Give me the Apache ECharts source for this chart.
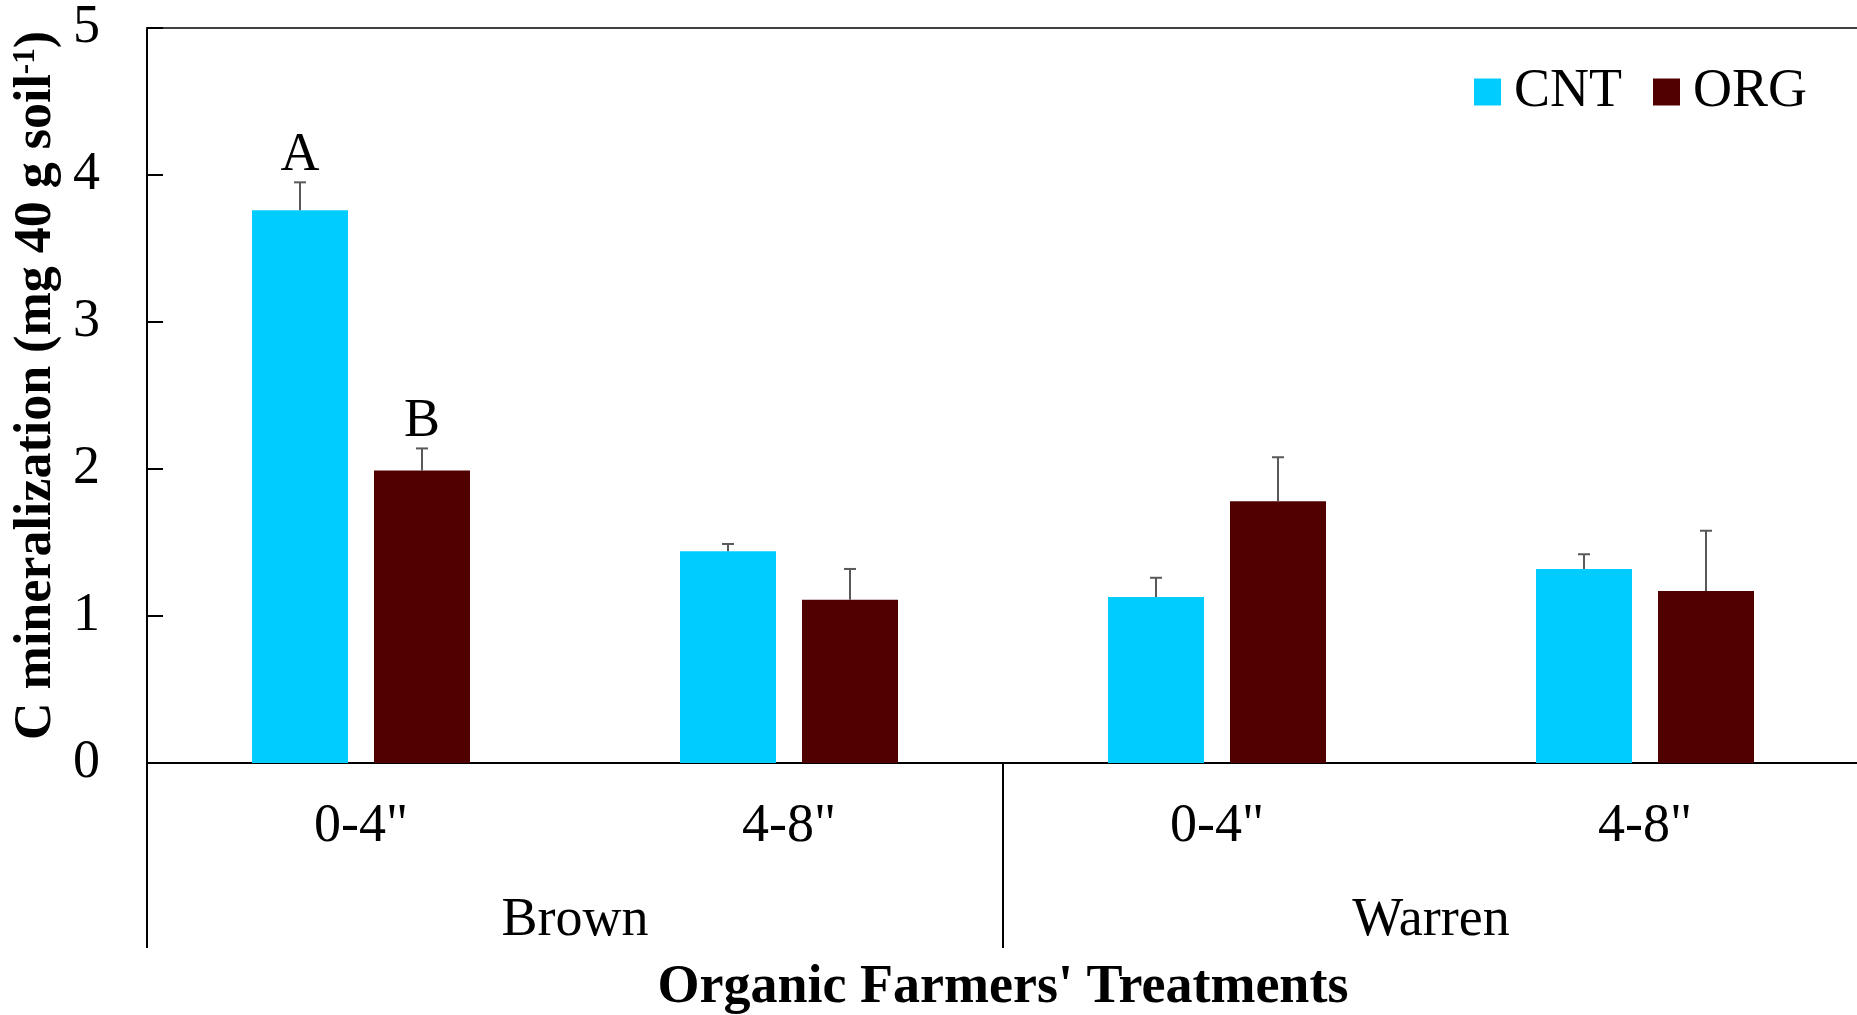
<!DOCTYPE html>
<html>
<head>
<meta charset="utf-8">
<script src="https://cdn.jsdelivr.net/npm/echarts@6/dist/echarts.min.js"></script>
<style>
html,body{margin:0;padding:0;background:#fff;}
#chart{width:1857px;height:1015px;}
</style>
</head>
<body>
<div id="chart"></div>
<script>
// ---- data ----
const depthLabels = ['0-4"', '4-8"', '0-4"', '4-8"'];
const farmLabels = ['Brown', 'Warren'];
const seriesNames = ['CNT', 'ORG'];
const cntValues = [3.76, 1.44, 1.13, 1.32];
const orgValues = [1.99, 1.11, 1.78, 1.17];
const cntErrors = [0.19, 0.05, 0.13, 0.10];
const orgErrors = [0.15, 0.21, 0.30, 0.41];
const cntLetters = ['A', '', '', ''];
const orgLetters = ['B', '', '', ''];
const yTicks = [0, 1, 2, 3, 4, 5];

// ---- style ----
const FONT = "'Liberation Serif', 'Times New Roman', 'DejaVu Serif', serif";
const CNT_COLOR = '#00CCFF';
const ORG_COLOR = '#500000';
const BAR_W = 96;
const BAR_GAP = 26;
const OFFSET = (BAR_W + BAR_GAP) / 2;

function errSeries(name, values, errors, letters, sign) {
  return {
    type: 'custom',
    name: name + ' err',
    xAxisIndex: 0,
    yAxisIndex: 0,
    z: 5,
    silent: true,
    data: values.map((v, i) => [i, v, errors[i]]),
    renderItem: function (params, api) {
      const i = api.value(0);
      const v = api.value(1);
      const e = api.value(2);
      const base = api.coord([i, v]);
      const top = api.coord([i, v + e]);
      const x = base[0] + sign * OFFSET;
      const children = [
        { type: 'line', shape: { x1: x, y1: base[1], x2: x, y2: top[1] },
          style: { stroke: '#595959', lineWidth: 2 } },
        { type: 'line', shape: { x1: x - 6, y1: top[1], x2: x + 6, y2: top[1] },
          style: { stroke: '#595959', lineWidth: 2 } }
      ];
      const letter = letters[params.dataIndex];
      if (letter) {
        children.push({
          type: 'text',
          style: { text: letter, x: x, y: top[1] - 27, align: 'center', verticalAlign: 'middle',
                   font: '54px ' + FONT, fill: '#000' }
        });
      }
      return { type: 'group', children: children };
    }
  };
}

const chart = echarts.init(document.getElementById('chart'), null, { renderer: 'canvas' });
chart.setOption({
  animation: false,
  backgroundColor: '#fff',
  grid: { left: 147, right: -2, top: 28, bottom: 252, containLabel: false, outerBoundsMode: 'none' },
  legend: {
    data: seriesNames,
    right: 45,
    top: 60,
    icon: 'rect',
    itemWidth: 27,
    itemHeight: 27,
    itemGap: 31,
    textStyle: { fontFamily: FONT, fontSize: 54, color: '#000', padding: [0, 0, 0, 8] }
  },
  xAxis: [
    {
      type: 'category',
      data: depthLabels,
      position: 'bottom',
      axisLine: { show: true, onZero: false, lineStyle: { color: '#000', width: 2 } },
      axisTick: { show: false },
      axisLabel: { fontFamily: FONT, fontSize: 54, color: '#000', margin: 37, interval: 0 },
      splitLine: { show: false }
    },
    {
      type: 'category',
      data: farmLabels,
      position: 'bottom',
      axisLine: { show: false },
      axisTick: { show: true, inside: false, length: 185, interval: 0,
                  lineStyle: { color: '#000', width: 2 } },
      axisLabel: { fontFamily: FONT, fontSize: 54, color: '#000', margin: 131, interval: 0 },
      name: "Organic Farmers' Treatments",
      nameLocation: 'middle',
      nameGap: 198,
      nameTextStyle: { fontFamily: FONT, fontSize: 54, fontWeight: 'bold', color: '#000' },
      splitLine: { show: false }
    },
    {
      type: 'category',
      data: depthLabels,
      position: 'top',
      axisLine: { show: true, onZero: false, lineStyle: { color: '#404040', width: 2 } },
      axisTick: { show: false },
      axisLabel: { show: false },
      splitLine: { show: false }
    }
  ],
  yAxis: {
    type: 'value',
    min: yTicks[0],
    max: yTicks[yTicks.length - 1],
    interval: 1,
    axisLine: { show: true, lineStyle: { color: '#000', width: 2 } },
    axisTick: { show: true, inside: true, length: 16, lineStyle: { color: '#000', width: 2 } },
    axisLabel: { fontFamily: FONT, fontSize: 54, color: '#000', margin: 47 },
    splitLine: { show: false },
    name: '{t|C mineralization (mg 40 g soil}{s|-1}{t|)}',
    nameLocation: 'middle',
    nameRotate: 90,
    nameGap: 66,
    nameTextStyle: {
      padding: [0, 0, 0, 20],
      rich: {
        t: { fontFamily: FONT, fontSize: 52, fontWeight: 'bold', color: '#000' },
        s: { fontFamily: FONT, fontSize: 31, fontWeight: 'bold', color: '#000', verticalAlign: 'top', padding: [0, 0, 21, 0] }
      }
    }
  },
  series: [
    { type: 'bar', name: 'CNT', data: cntValues, barWidth: BAR_W, barGap: (BAR_GAP / BAR_W * 100) + '%',
      itemStyle: { color: CNT_COLOR }, xAxisIndex: 0 },
    { type: 'bar', name: 'ORG', data: orgValues, barWidth: BAR_W, barGap: (BAR_GAP / BAR_W * 100) + '%',
      itemStyle: { color: ORG_COLOR }, xAxisIndex: 0 },
    errSeries('CNT', cntValues, cntErrors, cntLetters, -1),
    errSeries('ORG', orgValues, orgErrors, orgLetters, 1)
  ]
});
</script>
</body>
</html>
